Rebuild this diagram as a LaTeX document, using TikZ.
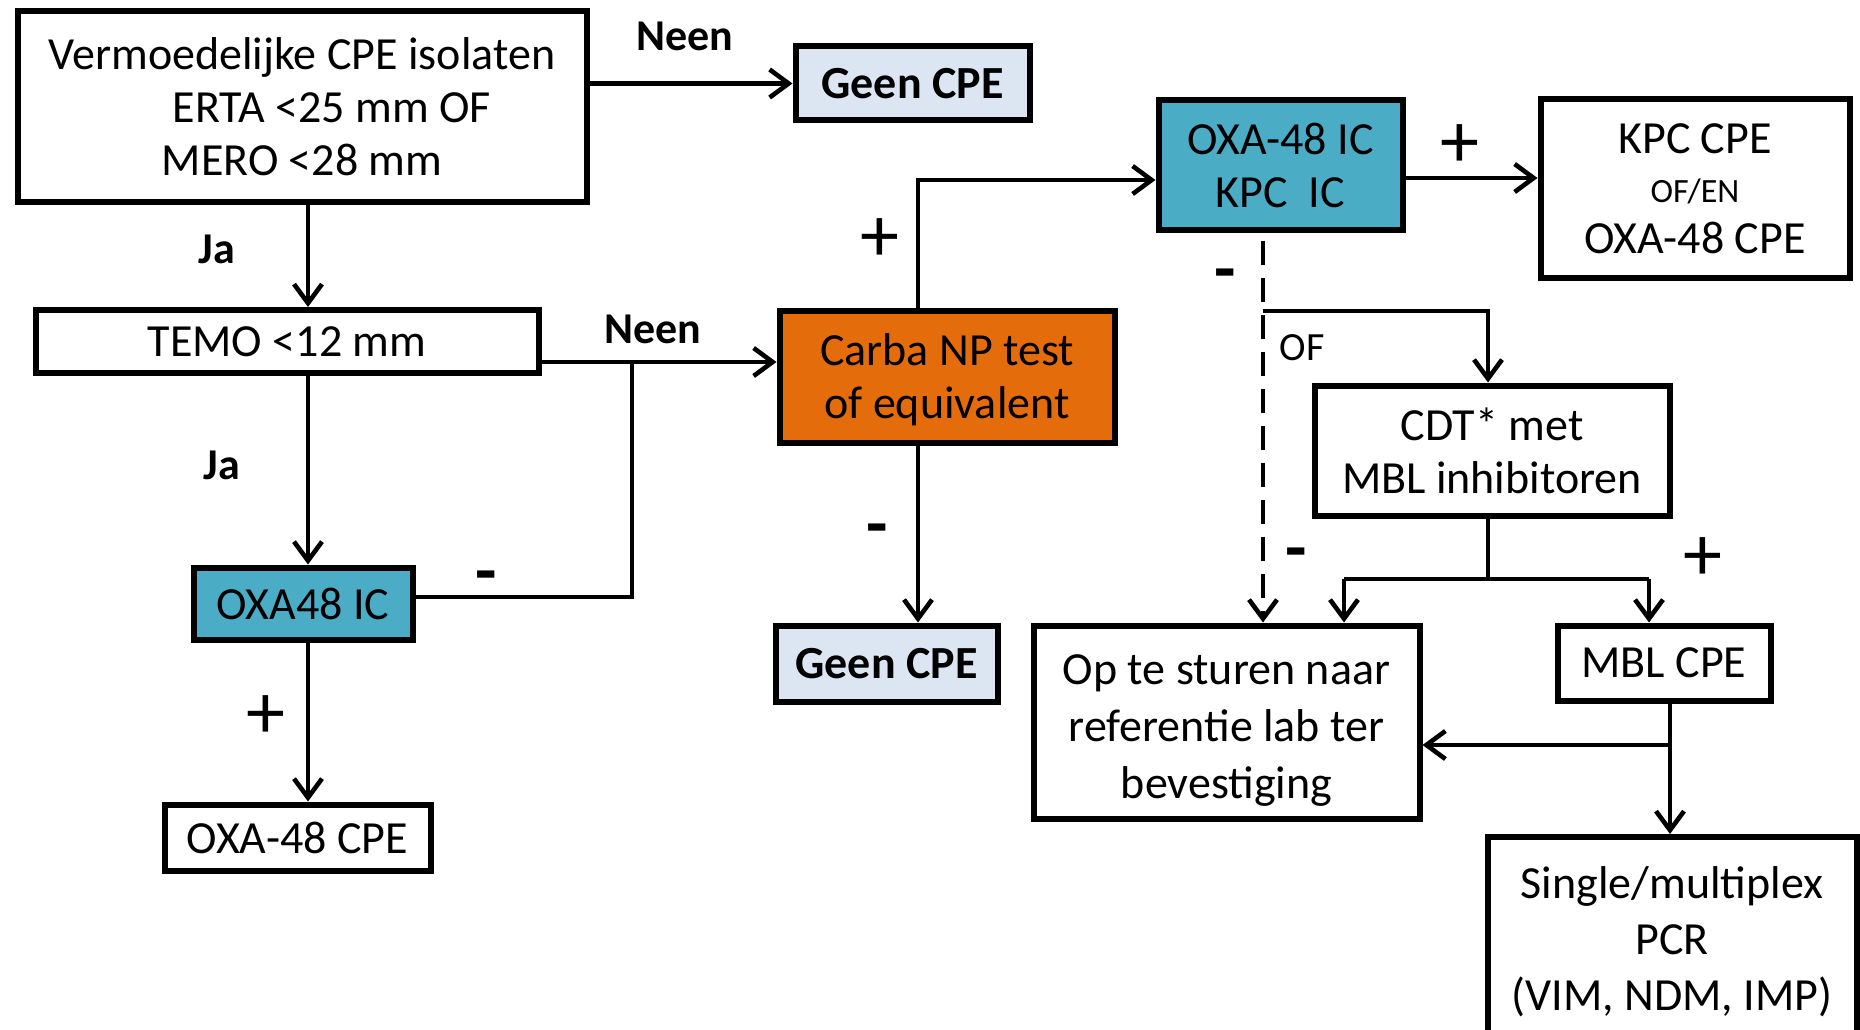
\documentclass[tikz,border=0pt]{standalone}
\usepackage{fontspec}
\setmainfont{Carlito}
\usetikzlibrary{arrows.meta}
\definecolor{tealbox}{HTML}{4BACC6}
\definecolor{orangebox}{HTML}{E46C0A}
\definecolor{lightbox}{HTML}{DCE6F2}
\begin{document}
\begin{tikzpicture}[x=1pt,y=-1pt,
  box/.style={draw,line width=6pt,align=center,inner sep=0pt,font=\fontsize{46}{53}\selectfont},
  conn/.style={line width=4.6pt},
  arr/.style={conn,-{Straight Barb[length=19pt,width=28pt,line width=4.6pt]}},
  dasharr/.style={arr,dash pattern=on 24pt off 13pt},
  lbl/.style={font=\fontsize{44}{50}\selectfont\bfseries},
  sign/.style={anchor=base,inner sep=0pt,font=\fontsize{78}{80}\selectfont},
  minus/.style={anchor=base,inner sep=0pt,font=\fontsize{70}{72}\selectfont\bfseries}]
\useasboundingbox (0,0) rectangle (1860,1030);
\fill[white] (0,0) rectangle (1860,1030);
\clip (0,0) rectangle (1860,1030);

% boxes
\node[box,minimum width=569pt,minimum height=190pt] (box1) at (302,106.5)
  {Vermoedelijke CPE isolaten\\\hspace*{1.3em}ERTA <25 mm OF\\MERO <28 mm};
\node[box,fill=lightbox,minimum width=234pt,minimum height=74pt,font=\fontsize{46}{53}\selectfont\bfseries] (geen1) at (912.5,83.5) {Geen CPE};
\node[box,minimum width=503pt,minimum height=63pt] (temo) at (287,341.5) {TEMO <12 mm};
\node[box,fill=orangebox,minimum width=335pt,minimum height=132pt] (carba) at (947,376.5) {\rule{0pt}{38pt}Carba NP test\\of equivalent};
\node[box,fill=tealbox,minimum width=219pt,minimum height=72pt] (oxa48) at (303,603.5) {OXA48 IC};
\node[box,minimum width=266pt,minimum height=66pt] (oxacpe) at (297.5,837.5) {OXA-48 CPE};
\node[box,fill=lightbox,minimum width=222pt,minimum height=76pt,font=\fontsize{46}{53}\selectfont\bfseries] (geen2) at (886.5,663.5) {Geen CPE};
\node[box,fill=tealbox,minimum width=244pt,minimum height=129pt] (oxakpc) at (1280.5,165) {OXA-48 IC\\KPC\ \ IC};
\node[box,minimum width=309pt,minimum height=178pt] (kpccpe) at (1695,188.5)
  {KPC CPE\\[-4pt]{\fontsize{34}{40}\selectfont OF/EN}\\[-2pt]OXA-48 CPE};
\node[box,minimum width=355pt,minimum height=130pt] (cdt) at (1492,450.5) {CDT* met\\MBL inhibitoren};
\node[box,minimum width=386pt,minimum height=193pt,font=\fontsize{46}{57}\selectfont] (opte) at (1226.5,722) {\rule{0pt}{46pt}Op te sturen naar\\referentie lab ter\\bevestiging};
\node[box,minimum width=213pt,minimum height=75pt] (mblcpe) at (1664,663) {MBL CPE};
\node[box,minimum width=369pt,minimum height=210pt,font=\fontsize{46}{56}\selectfont] (pcr) at (1672,942) {Single/multiplex\\PCR\\(VIM, NDM, IMP)};

% junction coordinates
\coordinate (jtemo) at (632,362);
\coordinate (jcarba) at (918,180);
\coordinate (jof) at (1263,311);
\coordinate (jcdt) at (1488,579);
\coordinate (jcdtl) at (1344,579);
\coordinate (jcdtr) at (1649,579);
\coordinate (jmbl) at (1670,745);

% connectors
\draw[arr] (box1.east |- geen1.west) -- (geen1.west);
\draw[arr] (308,0 |- box1.south) -- (308,0 |- temo.north);
\draw[arr] (temo.east |- jtemo) -- (carba.west |- jtemo);
\draw[arr] (308,0 |- temo.south) -- (308,0 |- oxa48.north);
\draw[conn] (oxa48.east |- 0,597) -| (jtemo);
\draw[arr] (308,0 |- oxa48.south) -- (308,0 |- oxacpe.north);
\draw[arr] (jcarba |- carba.south) -- (jcarba |- geen2.north);
\draw[arr] (jcarba |- carba.north) -- (jcarba) -- (oxakpc.west |- jcarba);
\draw[arr] (oxakpc.east |- 0,178) -- (kpccpe.west |- 0,178);
\draw[dasharr] ([yshift=-8pt]jof |- oxakpc.south) -- (jof |- opte.north);
\draw[arr] (jof) -| (jcdt |- cdt.north);
\draw[conn] (jcdt |- cdt.south) -- (jcdt);
\draw[conn] (jcdtl) -- (jcdtr);
\draw[arr] (jcdtl) -- (jcdtl |- opte.north);
\draw[arr] (jcdtr) -- (jcdtr |- mblcpe.north);
\draw[arr] (jmbl |- mblcpe.south) -- (jmbl |- pcr.north);
\draw[arr] (jmbl) -- (opte.east |- jmbl);

% labels
\node[lbl] (l1) at (685,36) {Neen};
\node[lbl] (l2) at (653,329) {Neen};
\node[lbl] (l3) at (217,249) {Ja};
\node[lbl] (l4) at (222,465) {Ja};
\node[minus] (l5) at (486,594) {-};
\node[sign] (l6) at (266,738) {+};
\node[minus] (l7) at (877,547) {-};
\node[sign] (l8) at (880,261) {+};
\node[sign] (l9) at (1460,167) {+};
\node[minus] (l10) at (1225,292) {-};
\node[font=\fontsize{40}{46}\selectfont] (l11) at (1302,348) {OF};
\node[minus] (l12) at (1296,571) {-};
\node[sign] (l13) at (1703,580) {+};
\end{tikzpicture}
\end{document}
